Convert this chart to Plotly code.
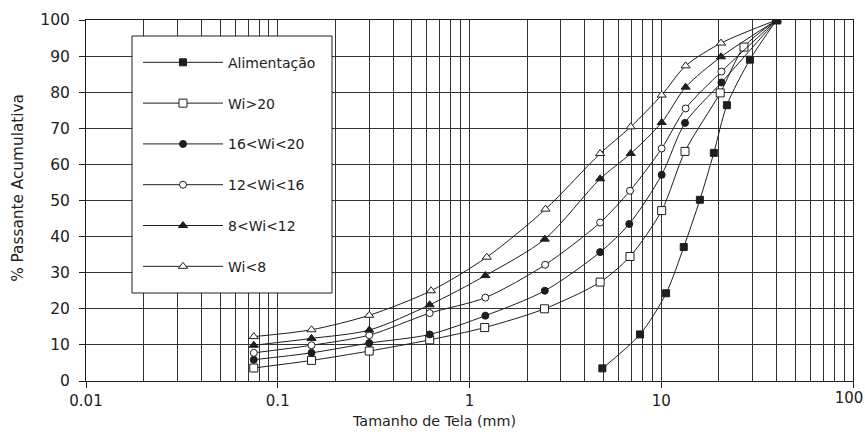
import plotly.graph_objects as go

# ---- data ----
series_names = ["Alimentação", "Wi>20", "16<Wi<20", "12<Wi<16", "8<Wi<12", "Wi<8"]

alim_x = [4.93, 7.75, 10.6, 13.1, 15.9, 18.8, 22.0, 29.0, 40.0]
alim_y = [3.5, 12.9, 24.3, 37.1, 50.2, 63.2, 76.4, 89.0, 100.0]

wi20_x = [0.075, 0.15, 0.30, 0.62, 1.20, 2.46, 4.80, 6.87, 10.05, 13.3, 20.3, 27.0, 40.0]
wi20_y = [3.6, 5.7, 8.3, 11.4, 14.8, 20.0, 27.4, 34.5, 47.2, 63.6, 79.8, 92.5, 100.0]

wi16_20_x = [0.075, 0.15, 0.30, 0.62, 1.21, 2.47, 4.80, 6.81, 10.05, 13.3, 20.6, 40.0]
wi16_20_y = [5.9, 7.8, 10.5, 12.9, 18.1, 25.0, 35.7, 43.5, 57.1, 71.5, 82.7, 100.0]

wi12_16_x = [0.075, 0.15, 0.30, 0.62, 1.21, 2.48, 4.80, 6.87, 10.05, 13.4, 20.6, 40.0]
wi12_16_y = [7.8, 9.9, 12.7, 18.8, 23.1, 32.2, 43.9, 52.7, 64.4, 75.5, 85.7, 100.0]

wi8_12_x = [0.075, 0.15, 0.30, 0.62, 1.21, 2.47, 4.80, 6.93, 10.05, 13.4, 20.5, 40.0]
wi8_12_y = [9.9, 11.8, 14.1, 21.1, 29.2, 39.3, 56.0, 63.0, 71.6, 81.4, 89.8, 100.0]

wi8_x = [0.075, 0.15, 0.30, 0.63, 1.23, 2.49, 4.80, 6.93, 10.05, 13.4, 20.5, 40.0]
wi8_y = [12.3, 14.2, 18.2, 25.0, 34.3, 47.6, 63.0, 70.4, 79.2, 87.3, 93.6, 100.0]

x_tick_vals = [0.01, 0.1, 1, 10, 100]
x_tick_text = ["0.01", "0.1", "1", "10", "100"]
y_tick_vals = [0, 10, 20, 30, 40, 50, 60, 70, 80, 90, 100]

x_title = "Tamanho de Tela (mm)"
y_title = "% Passante Acumulativa"

# ---- styles ----
INK = "#1e1e1e"
styles = [
    dict(symbol="square", color=INK, size=7),
    dict(symbol="square", color="white", size=8),
    dict(symbol="circle", color=INK, size=7),
    dict(symbol="circle", color="white", size=7),
    dict(symbol="triangle-up", color=INK, size=8),
    dict(symbol="triangle-up", color="white", size=8),
]
xs = [alim_x, wi20_x, wi16_20_x, wi12_16_x, wi8_12_x, wi8_x]
ys = [alim_y, wi20_y, wi16_20_y, wi12_16_y, wi8_12_y, wi8_y]

fig = go.Figure()
for i, (name, x, y, st) in enumerate(zip(series_names, xs, ys, styles)):
    fig.add_trace(go.Scatter(
        x=x, y=y, name=name, mode="lines+markers",
        legendgroup=f"g{i}",
        # first series uses the twin x axis (identical scale) that carries the "100" label
        xaxis="x2" if i == 0 else "x",
        line=dict(color=INK, width=1, shape="spline", smoothing=0.8),
        marker=dict(symbol=st["symbol"], size=st["size"], color=st["color"],
                    line=dict(color=INK, width=1)),
    ))

minor_vals = []
for dec in [0.01, 0.1, 1, 10]:
    for k in range(2, 10):
        minor_vals.append(round(dec * k, 4))

FONT = "DejaVu Sans"
fig.update_layout(
    width=865, height=432,
    margin=dict(l=86, r=12, t=20, b=51),
    paper_bgcolor="white", plot_bgcolor="white",
    font=dict(family=FONT, color="#222", size=14),
    showlegend=True,
    legend=dict(
        x=0.0678, y=0.926, xanchor="left", yanchor="top",
        bgcolor="rgba(0,0,0,0)", borderwidth=0,
        font=dict(family=FONT, size=14, color="#222"),
        tracegroupgap=19.6, itemwidth=80,
    ),
    shapes=[
        dict(type="rect", xref="paper", yref="paper",
             x0=0.05997, x1=0.3207, y0=0.2438, y1=0.9557,
             fillcolor="white", line=dict(color=INK, width=1), layer="above"),
    ],
    xaxis=dict(
        type="log", range=[-2, 2],
        tickvals=x_tick_vals, ticktext=x_tick_text[:-1] + [""],
        showgrid=True, gridcolor="#333", gridwidth=1,
        showline=True, linecolor=INK, linewidth=1, mirror=True,
        ticks="outside", ticklen=6, tickcolor=INK,
        tickfont=dict(size=15),
        minor=dict(tickvals=minor_vals, showgrid=True, gridcolor="#333", gridwidth=1, ticks=""),
        zeroline=False, automargin=False,
    ),
    xaxis2=dict(
        type="log", range=[-2, 2], overlaying="x", anchor="y", side="bottom",
        tickvals=x_tick_vals[-1:], ticktext=x_tick_text[-1:],
        showgrid=False, showline=False, zeroline=False, ticks="",
        tickfont=dict(size=15), ticklabelshift=-4, ticklabelstandoff=6,
        ticklabeloverflow="allow", automargin=False,
    ),
    yaxis=dict(
        range=[0, 100], tickvals=y_tick_vals,
        showgrid=True, gridcolor="#333", gridwidth=1,
        showline=True, linecolor=INK, linewidth=1, mirror=True,
        ticks="outside", ticklen=6, tickcolor=INK,
        tickfont=dict(size=15.5), ticklabelstandoff=6,
        zeroline=False, automargin=False,
    ),
    annotations=[
        dict(text=x_title, xref="paper", yref="paper", x=0.4537, y=-0.111,
             xanchor="center", yanchor="middle", showarrow=False,
             font=dict(size=14.3)),
        dict(text=y_title, xref="paper", yref="paper", x=-0.0887, y=0.535,
             xanchor="center", yanchor="middle", showarrow=False, textangle=-90,
             font=dict(size=15.3)),
    ],
)

fig.write_html("out.html", config={"displayModeBar": False},
               post_script="document.body.style.margin='0';document.body.style.padding='0';")
